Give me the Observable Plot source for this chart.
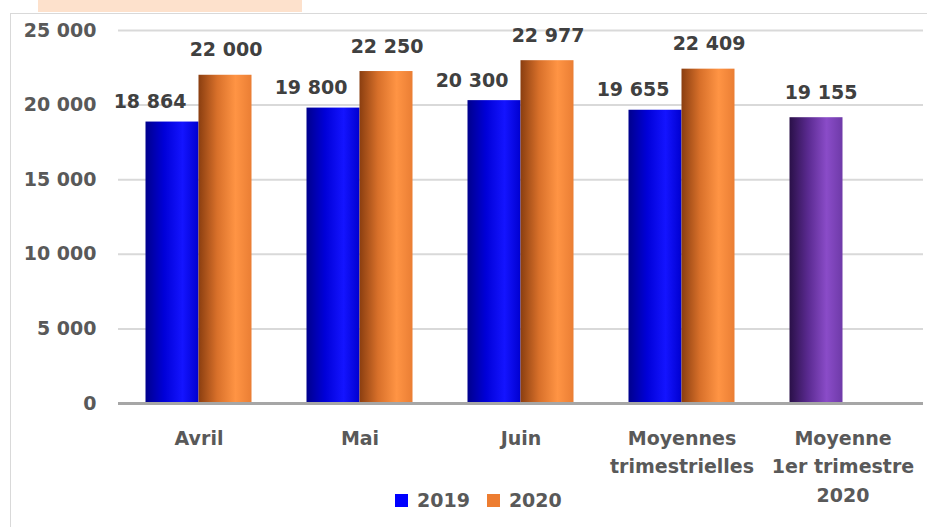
<!DOCTYPE html>
<html>
<head>
<meta charset="utf-8">
<script src="https://cdn.jsdelivr.net/npm/d3@7"></script>
<script src="https://cdn.jsdelivr.net/npm/@observablehq/plot@0.6"></script>
<style>
  html, body { margin: 0; padding: 0; background: #fff; }
  #wrap { position: relative; width: 927px; height: 527px; overflow: hidden; font-family: "DejaVu Sans", sans-serif; }
  #tab { position: absolute; left: 38px; top: 0; width: 264px; height: 12px; background: #fde1cc; }
  #frame { position: absolute; left: 10px; top: 13px; width: 940px; height: 540px; border: 1.5px solid #d9d9d9; box-sizing: border-box; }
  #chart { position: absolute; left: 0; top: 0; }
  #legend { position: absolute; left: 395px; top: 489px; display: flex; align-items: center; font-weight: bold; font-size: 19px; color: #595959; }
  #legend .sw { display: inline-block; width: 13px; height: 13px; margin-right: 9px; }
  #legend .item { display: flex; align-items: center; margin-right: 17px; }
</style>
</head>
<body>
<div id="wrap">
  <div id="tab"></div>
  <div id="frame"></div>
  <div id="chart"></div>
  <div id="legend"></div>
</div>
<script>
const categories = ["Avril", "Mai", "Juin", "Moyennes\ntrimestrielles", "Moyenne\n1er trimestre\n2020"];
const values2019 = [18864, 19800, 20300, 19655, null];
const values2020 = [22000, 22250, 22977, 22409, null];
const valuesQ1 = [null, null, null, null, 19155];
const yTicks = [0, 5000, 10000, 15000, 20000, 25000];
const legendLabels = ["2019", "2020"];

const rows2019 = categories.map((c, i) => ({cat: c, value: values2019[i]})).filter(d => d.value != null);
const rows2020 = categories.map((c, i) => ({cat: c, value: values2020[i]})).filter(d => d.value != null);
const rowsQ1 = categories.map((c, i) => ({cat: c, value: valuesQ1[i]})).filter(d => d.value != null);

const fmt = d => d3.format(",")(d).replace(/,/g, " ");

const svg = Plot.plot({
  width: 927,
  height: 527,
  marginLeft: 118,
  marginRight: 4,
  marginTop: 30,
  marginBottom: 124,
  style: {fontFamily: "DejaVu Sans, sans-serif", fontWeight: "bold", fontSize: "19px", color: "#595959", background: "transparent"},
  x: {domain: categories, padding: 0, label: null},
  y: {domain: [0, 25000], label: null},
  marks: [
    Plot.ruleY(yTicks.filter(d => d > 0), {stroke: "#d9d9d9", strokeWidth: 2}),
    Plot.barY(rows2019, {x: "cat", y: "value", fill: "url(#gBlue)", insetLeft: 27.5, insetRight: 80.5}),
    Plot.barY(rows2020, {x: "cat", y: "value", fill: "url(#gOrange)", insetLeft: 80.5, insetRight: 27.5}),
    Plot.barY(rowsQ1, {x: "cat", y: "value", fill: "url(#gPurple)", insetLeft: 27.5, insetRight: 80.5}),
    Plot.ruleY([0], {stroke: "#a6a6a6", strokeWidth: 3}),
    Plot.text(rows2019, {x: "cat", y: "value", text: d => fmt(d.value), dx: -49, dy: -20, fill: "#404040", fontSize: 19}),
    Plot.text(rows2020, {x: "cat", y: "value", text: d => fmt(d.value), dx: 27, dy: -25, fill: "#404040", fontSize: 19}),
    Plot.text(rowsQ1, {x: "cat", y: "value", text: d => fmt(d.value), dx: -22, dy: -25, fill: "#404040", fontSize: 19}),
    Plot.axisY({ticks: yTicks, tickSize: 0, tickPadding: 22, tickFormat: fmt, fontSize: 19}),
    Plot.axisX({tickSize: 0, tickPadding: 21, lineHeight: 1.5, fontSize: 19})
  ]
});

const defs = d3.select(svg).insert("defs", ":first-child");
function grad(id, stops) {
  const g = defs.append("linearGradient").attr("id", id).attr("x1", "0%").attr("x2", "100%").attr("y1", "0%").attr("y2", "0%");
  stops.forEach(([o, c]) => g.append("stop").attr("offset", o).attr("stop-color", c));
}
grad("gBlue", [["0%", "#00008c"], ["35%", "#0000d8"], ["70%", "#1414ff"], ["100%", "#0000d0"]]);
grad("gOrange", [["0%", "#8a3e10"], ["35%", "#d8702a"], ["70%", "#ff9444"], ["100%", "#ea7e34"]]);
grad("gPurple", [["0%", "#2a1048"], ["35%", "#5a2a90"], ["70%", "#8a4cc8"], ["100%", "#6e3aa8"]]);

document.getElementById("chart").appendChild(svg);

const legendColors = ["#0000ff", "#ed7d31"];
const leg = document.getElementById("legend");
legendLabels.forEach((l, i) => {
  const item = document.createElement("span");
  item.className = "item";
  const sw = document.createElement("span");
  sw.className = "sw";
  sw.style.background = legendColors[i];
  item.appendChild(sw);
  item.appendChild(document.createTextNode(l));
  leg.appendChild(item);
});
</script>
</body>
</html>
